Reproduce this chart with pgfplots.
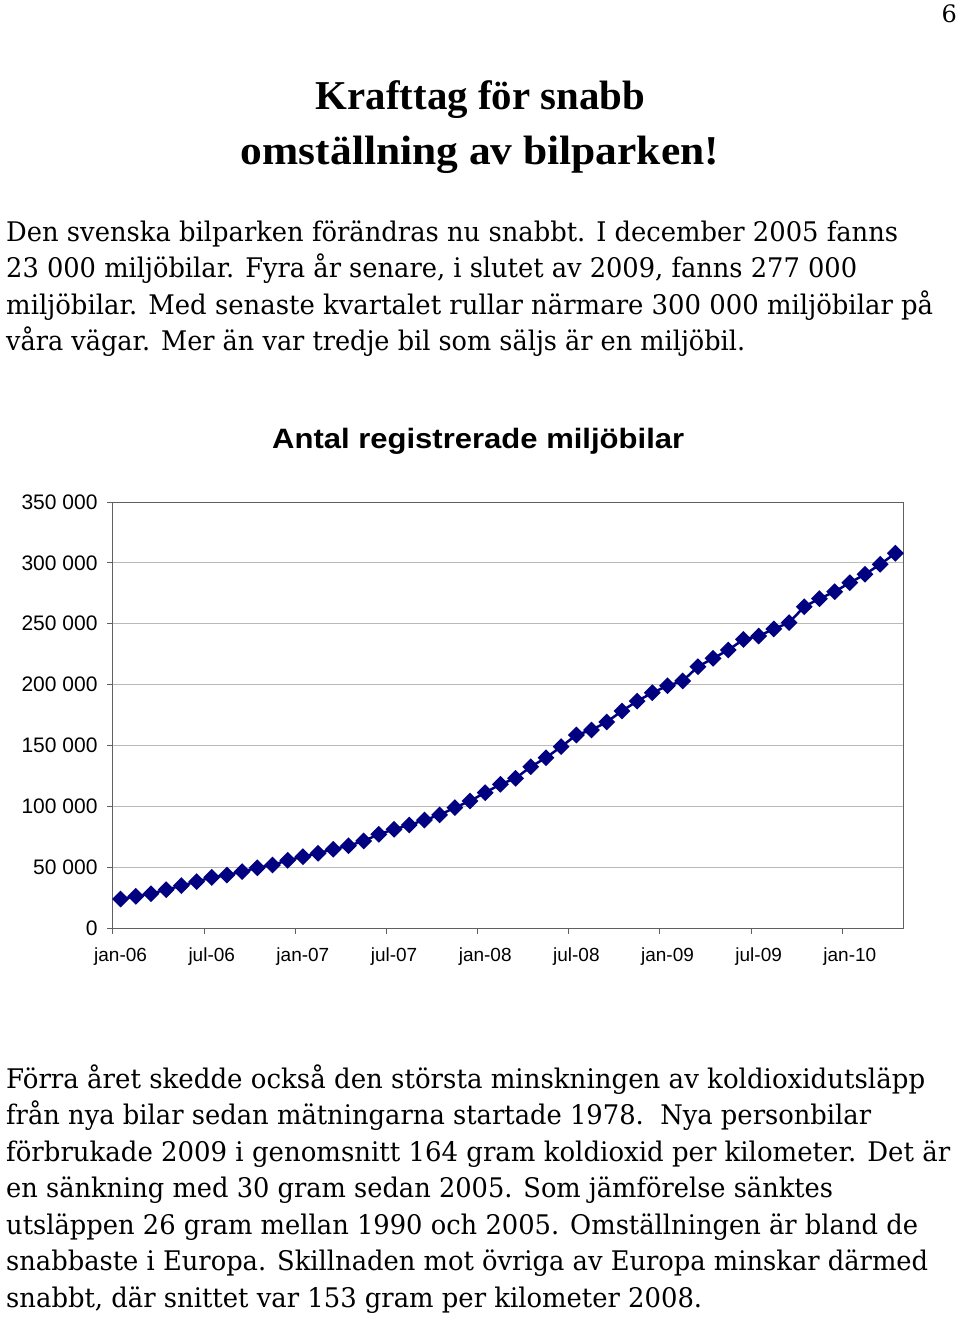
\documentclass[border=0pt]{standalone}
\usepackage{fontspec}
\setmainfont{DejaVu Serif}
\setsansfont{Liberation Sans}
\newfontfamily\titlefont{Liberation Serif}
\usepackage{graphicx}
\usepackage{pgfplots}
\usepackage{pgfplotstable}
\pgfplotsset{compat=1.18}
\definecolor{navy}{RGB}{0,0,128}

\pgfplotstableread{
idx val
0 23800
1 26000
2 28200
3 31500
4 34800
5 38100
6 41600
7 43500
8 46300
9 49500
10 51800
11 55600
12 58600
13 61400
14 64700
15 67600
16 71500
17 77000
18 81100
19 84600
20 88700
21 92900
22 98900
23 104400
24 111200
25 118100
26 123000
27 132500
28 139900
29 149000
30 158600
31 162700
32 169300
33 178300
34 186400
35 193300
36 199000
37 203000
38 214700
39 221600
40 228400
41 237100
42 239900
43 245700
44 250900
45 264000
46 270600
47 276300
48 283700
49 290600
50 298800
51 307900
}\datatable

\newcommand{\bodyline}[3]{\node[anchor=base west, inner sep=0pt] at (6pt,-#1pt) {\resizebox{#2pt}{\height}{\fontsize{27pt}{32pt}\selectfont #3}};}

\begin{document}
\begin{tikzpicture}
\useasboundingbox (0,0) rectangle (960pt,-1318pt);
% page number
\node[anchor=base east, inner sep=0pt] at (957pt,-22pt) {\fontsize{24pt}{28pt}\selectfont 6};
% title
\node[anchor=base, inner sep=0pt] at (480.5pt,-109pt) {\resizebox{329pt}{\height}{\titlefont\bfseries\fontsize{41pt}{46pt}\selectfont Krafttag för snabb}};
\node[anchor=base, inner sep=0pt] at (480pt,-164pt) {\resizebox{478pt}{\height}{\titlefont\bfseries\fontsize{41pt}{46pt}\selectfont omställning av bilparken!}};
% paragraph 1
\bodyline{241}{892}{Den svenska bilparken förändras nu snabbt. I december 2005 fanns}
\bodyline{277.5}{851}{23 000 miljöbilar. Fyra år senare, i slutet av 2009, fanns 277 000}
\bodyline{314}{927}{miljöbilar. Med senaste kvartalet rullar närmare 300 000 miljöbilar på}
\bodyline{350.5}{739}{våra vägar. Mer än var tredje bil som säljs är en miljöbil.}
% paragraph 2
\bodyline{1088}{919}{Förra året skedde också den största minskningen av koldioxidutsläpp}
\bodyline{1124.5}{865}{från nya bilar sedan mätningarna startade 1978.\ \ Nya personbilar}
\bodyline{1161}{944}{förbrukade 2009 i genomsnitt 164 gram koldioxid per kilometer. Det är}
\bodyline{1197.5}{827}{en sänkning med 30 gram sedan 2005. Som jämförelse sänktes}
\bodyline{1234}{912}{utsläppen 26 gram mellan 1990 och 2005. Omställningen är bland de}
\bodyline{1270.5}{922}{snabbaste i Europa. Skillnaden mot övriga av Europa minskar därmed}
\bodyline{1307}{696}{snabbt, där snittet var 153 gram per kilometer 2008.}
% chart title
\node[anchor=base west, inner sep=0pt] at (272pt,-448pt) {\resizebox{412pt}{\height}{\sffamily\bfseries\fontsize{28pt}{32pt}\selectfont Antal registrerade miljöbilar}};

\begin{axis}[
  at={(113pt,-928pt)}, anchor=south west,
  scale only axis, width=790pt, height=426pt,
  xmin=-0.5, xmax=51.5, ymin=0, ymax=350000,
  clip=false,
  scaled y ticks=false,
  axis line style={gray!75!black, line width=1pt},
  ytick={0,50000,100000,150000,200000,250000,300000,350000},
  yticklabels={0,50 000,100 000,150 000,200 000,250 000,300 000,350 000},
  ymajorgrids,
  grid style={gray!55, line width=1pt},
  tick align=outside,
  xtick pos=bottom, ytick pos=left,
  major tick length=6pt,
  tick style={gray!75!black, line width=1pt},
  xtick={-0.5,5.5,11.5,17.5,23.5,29.5,35.5,41.5,47.5},
  xticklabels={},
  extra x ticks={0,6,12,18,24,30,36,42,48},
  extra x tick labels={jan-06,jul-06,jan-07,jul-07,jan-08,jul-08,jan-09,jul-09,jan-10},
  extra x tick style={major tick length=0pt, xmajorgrids=false},
  yticklabel style={font=\sffamily\fontsize{21pt}{24pt}\selectfont, xshift=-6pt},
  xticklabel style={font=\sffamily\fontsize{19pt}{22pt}\selectfont, yshift=-16pt},
  /pgf/number format/assume math mode=true,
]
\addplot[color=navy, line width=2.5pt, mark=square*, mark size=4.7pt, mark options={rotate=45, solid, fill=navy}] table[x=idx,y=val]{\datatable};
\end{axis}
\end{tikzpicture}
\end{document}
